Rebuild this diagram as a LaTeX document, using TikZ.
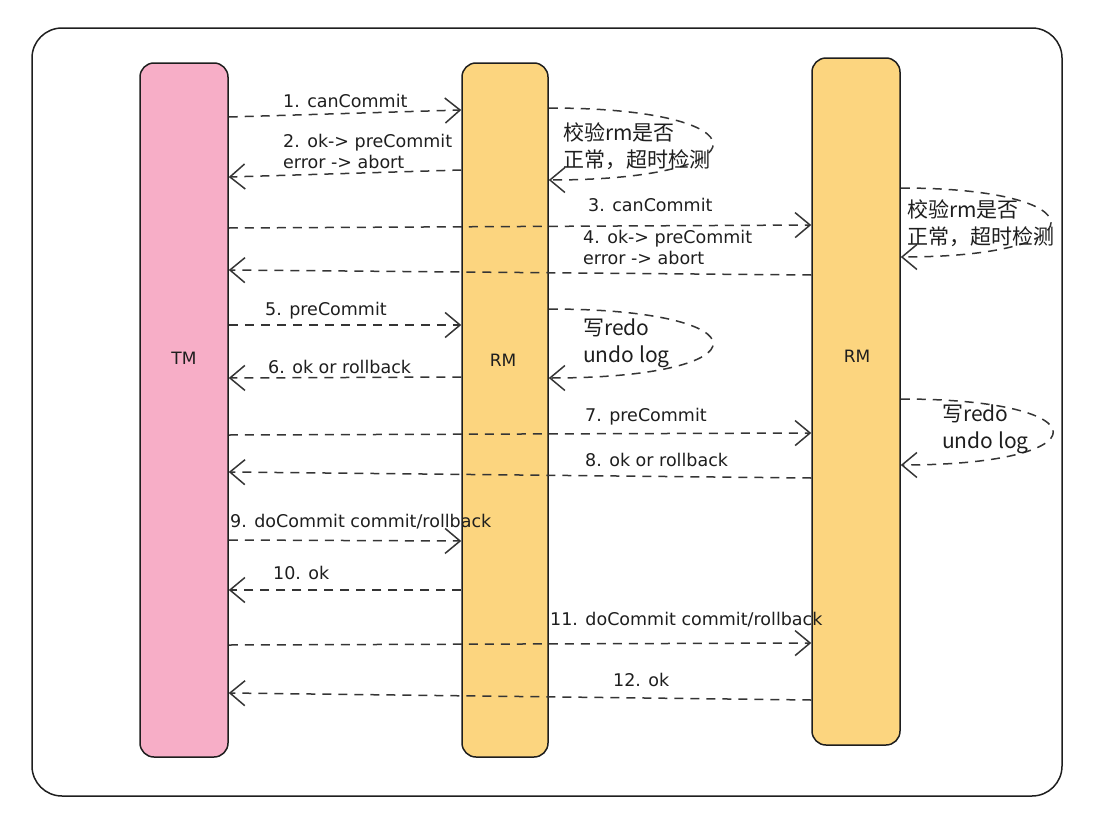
\documentclass[tikz,border=0pt]{standalone}
\usepackage{fontspec}
\setmainfont{DejaVu Sans}
\newfontfamily\cjk{Noto Sans CJK SC}
\usepackage{tikz}
\usetikzlibrary{arrows.meta, positioning, calc}
\usepackage{xcolor}
\definecolor{tmpink}{HTML}{F7AEC7}
\definecolor{rmyellow}{HTML}{FCD57F}
\definecolor{inkcolor}{HTML}{1E1E1E}

\begin{document}
\begin{tikzpicture}[x=1pt, y=-1pt,
  every node/.style={font=\fontsize{17.5}{21}\selectfont, text=inkcolor},
  lane/.style={draw=inkcolor, line width=1.5pt, rounded corners=14pt, inner sep=0pt},
  msg/.style={draw=inkcolor!90, line width=1.5pt, dash pattern=on 9pt off 7pt,
    -{Straight Barb[length=15pt, width=25pt, line width=1.5pt]}},
  lbl/.style={anchor=west, inner sep=0pt, align=left},
  note/.style={anchor=west, inner sep=0pt, align=left, font=\cjk\fontsize{21}{27}\selectfont},
  lanetxt/.style={font=\fontsize{17}{20}\selectfont}]
  \useasboundingbox (0,0) rectangle (1108,819);

  % outer frame
  \draw[inkcolor, line width=1.5pt, rounded corners=30pt] (32,28) rectangle (1062,796);

  % participants
  \node[lane, fill=tmpink, minimum width=88pt, minimum height=694pt] (tm) at (184,410) {};
  \node[lane, fill=rmyellow, minimum width=86pt, minimum height=694pt] (rma) at (505,410) {};
  \node[lane, fill=rmyellow, minimum width=88pt, minimum height=687pt] (rmb) at (856,401.5) {};
  \node[lanetxt] (tmtxt) at (184,358) {TM};
  \node[lanetxt] (rmatxt) at (503,360) {RM};
  \node[lanetxt] (rmbtxt) at (857,356) {RM};

  % canCommit phase
  \draw[msg] (tm.east |- 0,117) -- (rma.west |- 0,110);
  \node[lbl] (m1) at (283,101) {1. canCommit};
  \draw[msg] (rma.west |- 0,170) -- (tm.east |- 0,177);
  \node[lbl] (m2) at (283,151) {2. ok-> preCommit\\error -> abort};
  \draw[msg] (rma.east |- 0,108) .. controls +(219,0) and +(219,0) .. (rma.east |- 0,180);
  \node[note] (c1) at (563,146.5) {校验rm是否\\正常，超时检测};

  \draw[msg] (tm.east |- 0,228) -- (rmb.west |- 0,225);
  \node[lbl] (m3) at (588,205) {3. canCommit};
  \draw[msg] (rmb.west |- 0,275) -- (tm.east |- 0,270);
  \node[lbl] (m4) at (583,247) {4. ok-> preCommit\\error -> abort};
  \draw[msg] (rmb.east |- 0,188) .. controls +(200,0) and +(200,0) .. (rmb.east |- 0,257);
  \node[note] (c2) at (907,223.5) {校验rm是否\\正常，超时检测};

  % preCommit phase
  \draw[msg] (tm.east |- 0,325) -- (rma.west |- 0,325);
  \node[lbl] (m5) at (265,311) {5. preCommit};
  \draw[msg] (rma.west |- 0,377) -- (tm.east |- 0,378);
  \node[lbl] (m6) at (268,367) {6. ok or rollback};
  \draw[msg] (rma.east |- 0,309) .. controls +(219,0) and +(219,0) .. (rma.east |- 0,378);
  \node[note] (w1) at (583,343) {写redo\\undo log};

  \draw[msg] (tm.east |- 0,435) -- (rmb.west |- 0,433);
  \node[lbl] (m7) at (585,417) {7. preCommit};
  \draw[msg] (rmb.west |- 0,478) -- (tm.east |- 0,472);
  \node[lbl] (m8) at (585,460) {8. ok or rollback};
  \draw[msg] (rmb.east |- 0,399) .. controls +(203,0) and +(203,0) .. (rmb.east |- 0,465);
  \node[note] (w2) at (942,429) {写redo\\undo log};

  % doCommit phase
  \draw[msg] (tm.east |- 0,540) -- (rma.west |- 0,541);
  \node[lbl] (m9) at (230,522) {9. doCommit commit/rollback};
  \draw[msg] (rma.west |- 0,590) -- (tm.east |- 0,590);
  \node[lbl] (m10) at (273,573) {10. ok};

  \draw[msg] (tm.east |- 0,645) -- (rmb.west |- 0,643);
  \node[lbl] (m11) at (550,620) {11. doCommit commit/rollback};
  \draw[msg] (rmb.west |- 0,700) -- (tm.east |- 0,693);
  \node[lbl] (m12) at (613,680) {12. ok};
\end{tikzpicture}
\end{document}
